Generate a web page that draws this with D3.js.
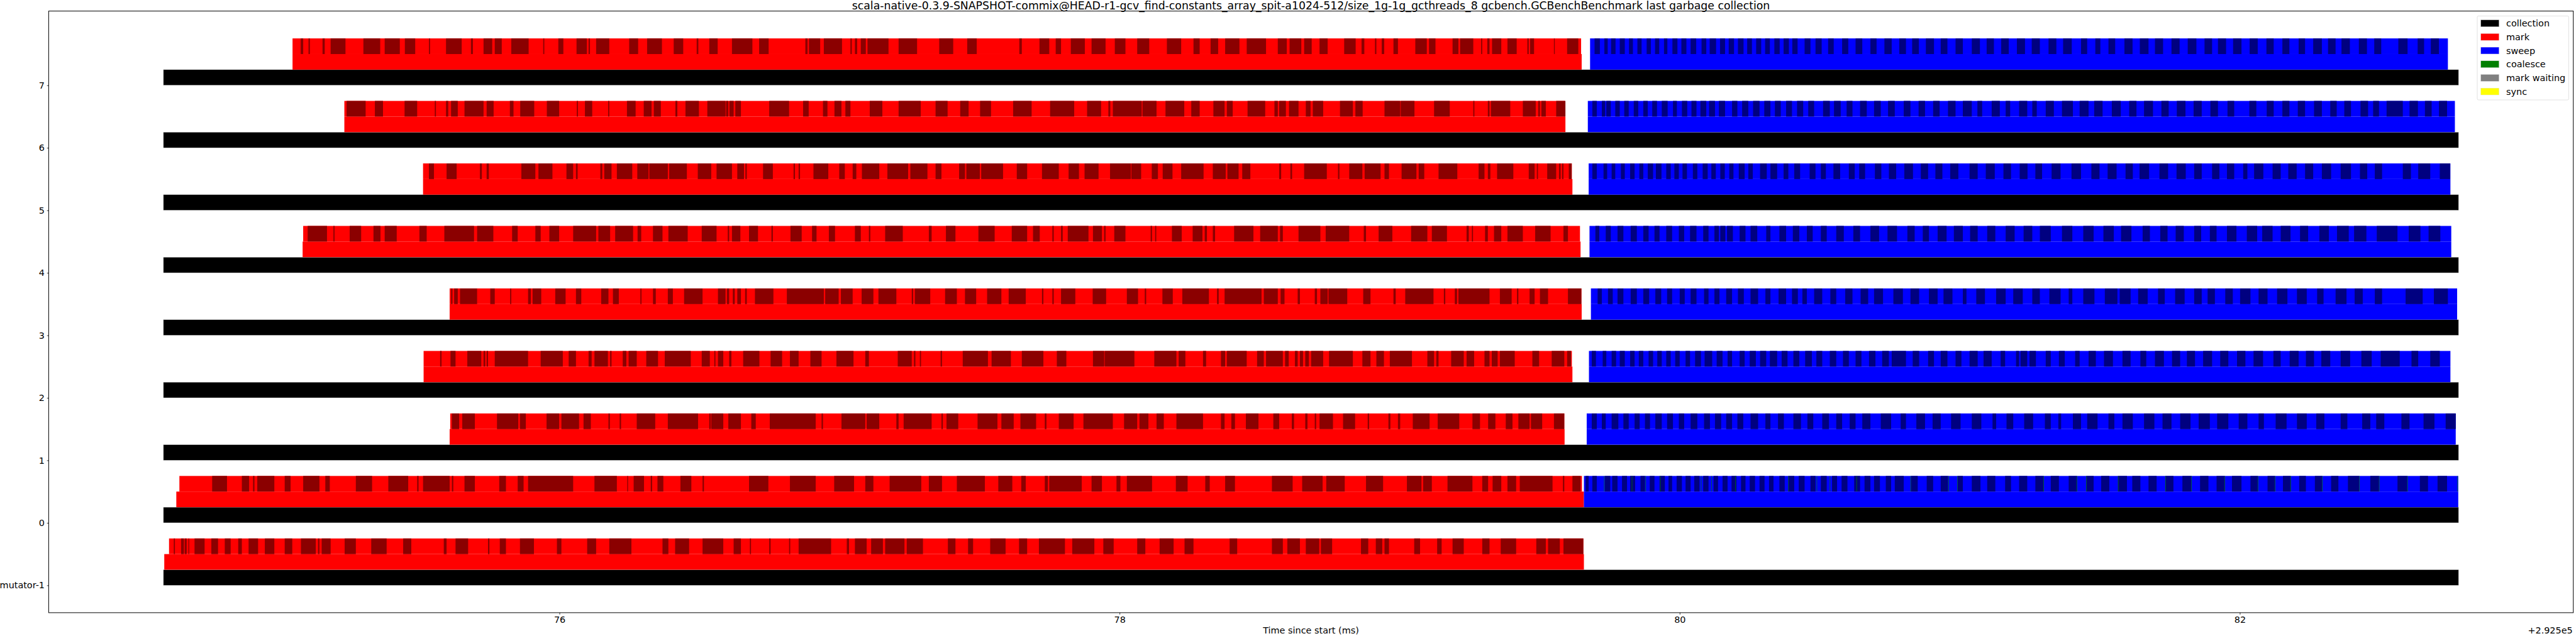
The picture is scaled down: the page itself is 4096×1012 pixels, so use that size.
<!DOCTYPE html>
<html><head><meta charset="utf-8">
<script src="https://cdn.jsdelivr.net/npm/d3@7"></script>
<style>html,body{margin:0;padding:0;background:#fff;overflow:hidden}svg{display:block}text{font-family:"DejaVu Sans",sans-serif}</style>
</head><body><svg id="chart" width="4096" height="1012"></svg>
<script>
// ---- data (times in microseconds after the +2.925e5 ms offset) ----
const titleText = "scala-native-0.3.9-SNAPSHOT-commix@HEAD-r1-gcv_find-constants_array_spit-a1024-512/size_1g-1g_gcthreads_8 gcbench.GCBenchBenchmark last garbage collection";
const rowLabels = ["7","6","5","4","3","2","1","0","mutator-1"];
const rowPos = [7,6,5,4,3,2,1,0,-1];
const collectionStart = [74586,74586,74586,74586,74586,74586,74586,74586,74586];
const collectionEnd   = [82781,82781,82781,82781,82781,82781,82781,82781,82781];
const markStart       = [75047,75232,75513,75083,75608,75515,75608,74632,74589];
const markEnd         = [79650,79592,79617,79646,79650,79617,79589,79658,79658];
const markDetailStart = [75047,75232,75513,75085,75608,75515,75610,74643,74606];
const markDetailEnd   = [79648,79590,79615,79644,79649,79615,79588,79651,79656];
const sweepStart      = [79680,79672,79675,79678,79683,79676,79668,79658,null];
const sweepEnd        = [82743,82768,82752,82755,82776,82752,82771,82780,null];
const xTicks = [76,78,80,82];
const offsetText = "+2.925e5";
const xLabel = "Time since start (ms)";
const legendLabels = ["collection","mark","sweep","coalesce","mark waiting","sync"];
const legendColors = ["#000000","#ff0000","#0000ff","#008000","#808080","#ffff00"];

const markDark7 = [75076,75085,75104,75109,75154,75162,75183,75236,75300,75360,75376,75430,75448,75485,75534,75538,75595,75651,75684,75691,75729,75760,75769,75794,75828,75890,75942,75946,75996,76014,76061,76098,76104,76109,76131,76178,76249,76281,76313,76366,76408,76442,76490,76496,76535,76565,76616,76689,76713,76747,76878,76886,76891,76931,76944,77009,77039,77044,77055,77063,77076,77094,77100,77175,77211,77277,77356,77406,77456,77490,77642,77651,77714,77749,77772,77791,77826,77876,77900,77950,77983,78021,78063,78106,78169,78220,78264,78286,78325,78352,78377,78428,78454,78523,78565,78597,78607,78649,78659,78686,78714,78743,78802,78843,78864,78874,78912,78917,78936,78945,78978,78994,79056,79097,79105,79128,79189,79210,79216,79263,79291,79295,79313,79321,79330,79363,79385,79418,79456,79461,79466,79480,79551,79554,79598,79638];
const markDark6 = [75240,75308,75341,75370,75447,75492,75555,75559,75595,75603,75613,75637,75661,75729,75740,75765,75823,75836,75860,75910,75955,75999,76062,76066,76091,76117,76174,76178,76241,76272,76301,76329,76337,76362,76414,76421,76450,76498,76528,76593,76595,76603,76607,76622,76628,76648,76749,76820,76870,76890,76941,76957,76982,77007,77021,77039,77108,77153,77211,77290,77343,77386,77431,77461,77502,77541,77620,77686,77752,77838,77884,77934,77960,77967,77976,78079,78082,78132,78164,78231,78256,78286,78335,78375,78383,78404,78457,78520,78553,78565,78570,78594,78605,78639,78665,78682,78690,78727,78787,78833,78842,78868,78946,79002,79004,79053,79123,79179,79263,79267,79315,79321,79326,79395,79440,79486,79495,79501,79506,79522,79559,79592];
const markDark5 = [75534,75552,75597,75633,75716,75723,75740,75748,75864,75914,75925,75975,76025,76049,76059,76065,76146,76153,76160,76186,76205,76260,76278,76318,76321,76387,76392,76455,76494,76542,76561,76616,76635,76659,76664,76669,76727,76762,76836,76841,76854,76859,76907,76960,76999,77019,77047,77060,77080,77142,77171,77245,77253,77314,77343,77364,77427,77448,77453,77501,77506,77584,77633,77670,77723,77783,77818,77855,77875,77925,77966,78040,78042,78077,78115,78137,78154,78189,78220,78300,78333,78379,78385,78425,78438,78467,78570,78577,78610,78616,78659,78740,78780,78785,78820,78867,78875,78932,78946,78962,79007,79060,79068,79088,79139,79206,79282,79303,79315,79324,79348,79406,79461,79482,79490,79494,79527,79559,79569,79575,79580,79585,79604,79614];
const markDark4 = [75101,75170,75193,75197,75251,75292,75336,75361,75376,75419,75500,75526,75589,75695,75706,75764,75831,75851,75914,75933,75964,75999,76049,76131,76139,76181,76199,76263,76279,76292,76334,76368,76389,76458,76508,76561,76601,76606,76616,76646,76677,76709,76757,76762,76825,76865,76902,76918,76962,76984,77055,77076,77105,77110,77163,77226,77319,77329,77380,77414,77496,77554,77615,77670,77691,77715,77760,77765,77791,77797,77815,77889,77905,77937,77945,77950,77981,78021,78111,78116,78127,78131,78187,78222,78261,78296,78304,78312,78333,78341,78409,78478,78502,78565,78573,78583,78639,78717,78736,78820,78872,78880,78925,78974,79041,79099,79115,79169,79239,79247,79258,79262,79305,79315,79337,79363,79385,79440,79484,79539,79585,79601];
const markDark3 = [75613,75618,75624,75637,75645,75706,75753,75769,75824,75828,75888,75898,75904,75935,75985,76022,76059,76078,76149,76175,76191,76212,76289,76293,76334,76344,76387,76405,76445,76511,76566,76593,76598,76606,76619,76626,76635,76648,76663,76669,76698,76764,76812,76944,76949,76997,77005,77047,77079,77121,77139,77203,77258,77263,77269,77324,77377,77419,77448,77488,77527,77578,77604,77665,77723,77728,77760,77765,77791,77842,77904,77952,78026,78066,78090,78095,78153,78190,78224,78319,78348,78354,78375,78507,78515,78565,78575,78589,78636,78644,78697,78705,78717,78743,78746,78813,78870,78896,78978,78986,79020,79121,79158,79163,79197,79205,79210,79321,79358,79400,79419,79424,79464,79482,79501,79530,79601,79649];
const markDark2 = [75574,75579,75611,75629,75671,75721,75729,75735,75740,75745,75769,75888,75933,76012,76033,76059,76104,76115,76125,76173,76181,76186,76226,76239,76247,76276,76310,76352,76376,76469,76508,76537,76553,76557,76566,76585,76606,76614,76656,76714,76754,76795,76823,76854,76896,76936,76989,77050,77092,77105,77208,77258,77266,77271,77287,77291,77361,77366,77440,77530,77543,77612,77651,77728,77776,77810,77905,77945,77947,78053,78124,78203,78211,78235,78298,78309,78362,78377,78383,78454,78491,78515,78523,78583,78591,78604,78626,78636,78644,78655,78663,78676,78684,78727,78748,78833,78867,78896,78917,78944,78965,79044,79099,79123,79131,79139,79184,79229,79239,79266,79303,79321,79329,79350,79358,79411,79474,79498,79543,79588,79598,79612];
const markDark1 = [75616,75642,75653,75698,75777,75853,75859,75880,75954,75999,76007,76070,76086,76112,76175,76180,76215,76220,76276,76342,76387,76495,76535,76540,76542,76585,76603,76648,76685,76701,76751,76915,76936,76941,77007,77092,77097,77142,77203,77211,77229,77329,77364,77369,77382,77424,77493,77564,77578,77622,77646,77702,77733,77739,77783,77836,77871,77976,78016,78063,78071,78103,78132,78158,78203,78298,78362,78375,78399,78412,78451,78496,78549,78570,78615,78623,78663,78671,78697,78702,78714,78762,78798,78841,78886,78891,78960,78967,78994,79002,79047,79107,79136,79213,79260,79287,79316,79342,79379,79403,79424,79464,79469,79509,79551,79588];
const markDark0 = [74760,74813,74866,74892,74906,74911,74921,74982,75019,75040,75085,75143,75164,75180,75273,75331,75389,75460,75492,75497,75513,75608,75616,75621,75661,75698,75785,75809,75851,75872,75888,76049,76125,76205,76242,76245,76265,76302,76326,76331,76350,76371,76432,76471,76511,76516,76677,76746,76823,76915,76981,77052,77092,77121,77179,77292,77319,77366,77419,77519,77567,77617,77649,77665,77733,77744,77749,77865,77900,77937,77989,78003,78026,78116,78201,78243,78306,78322,78377,78412,78544,78618,78652,78725,78738,78804,78880,78941,79026,79078,79084,79115,79171,79260,79295,79316,79332,79363,79385,79416,79429,79546,79583,79588,79617,79646];
const markDarkM = [74623,74627,74649,74659,74662,74669,74675,74678,74697,74733,74757,74781,74805,74826,74853,74866,74890,74924,74948,74982,75019,75046,75077,75130,75138,75143,75151,75183,75233,75273,75328,75383,75442,75471,75587,75597,75629,75674,75745,75750,75787,75809,75859,75909,75991,76007,76099,76131,76178,76257,76368,76389,76413,76463,76511,76585,76622,76648,76680,76684,76749,76754,76820,76824,76854,76970,77026,77034,77055,77097,77113,77155,77163,77232,77240,77298,77387,77414,77459,77477,77538,77593,77641,77670,77712,77805,77831,77910,77942,77979,78063,78092,78143,78193,78232,78264,78393,78420,78544,78583,78599,78644,78665,78713,78719,78759,78862,78888,78915,78938,78946,78962,79052,79073,79134,79150,79189,79229,79295,79321,79361,79416,79488,79522,79530,79572,79585,79656];

const sweepDark7 = [79696,79715,79731,79743,79755,79771,79786,79804,79819,79833,79849,79864,79882,79897,79912,79927,79944,79956,79974,79992,80006,80024,80039,80059,80078,80095,80107,80130,80144,80162,80175,80194,80208,80228,80241,80258,80273,80291,80305,80322,80338,80357,80371,80390,80402,80421,80446,80467,80485,80507,80530,80550,80580,80602,80628,80652,80681,80703,80731,80757,80784,80808,80830,80854,80879,80908,80932,80956,80985,81011,81043,81072,81096,81122,81148,81175,81204,81233,81257,81286,81317,81345,81369,81400,81433,81455,81484,81502,81531,81555,81588,81617,81643,81674,81697,81726,81756,81785,81814,81845,81874,81901,81922,81951,81976,82006,82035,82064,82095,82121,82152,82177,82210,82233,82262,82293,82315,82342,82363,82393,82425,82454,82480,82505,82566,82599,82635,82658,82682,82711];
const sweepDark6 = [79688,79704,79722,79734,79738,79754,79770,79786,79802,79818,79836,79852,79870,79886,79902,79919,79936,79957,79976,79990,80008,80027,80042,80060,80074,80095,80105,80126,80140,80162,80187,80206,80223,80245,80262,80285,80302,80324,80340,80361,80380,80401,80419,80441,80459,80480,80512,80536,80551,80575,80596,80617,80644,80668,80694,80718,80744,80768,80800,80824,80853,80876,80905,80928,80958,80985,81011,81043,81063,81080,81114,81143,81164,81180,81212,81241,81259,81275,81307,81336,81365,81404,81428,81460,81480,81510,81543,81575,81605,81631,81658,81690,81720,81746,81775,81806,81835,81864,81895,81922,81956,81980,82034,82059,82096,82121,82152,82177,82207,82233,82265,82293,82323,82346,82373,82397,82431,82458,82476,82497,82524,82582,82606,82636,82661,82685,82711,82740];
const sweepDark5 = [79688,79704,79728,79741,79757,79770,79790,79804,79823,79839,79856,79870,79886,79905,79915,79935,79952,79968,79981,79997,80010,80026,80047,80063,80082,80100,80113,80129,80145,80161,80177,80192,80211,80232,80245,80261,80287,80311,80324,80348,80371,80388,80409,80430,80464,80485,80504,80522,80549,80573,80604,80625,80641,80662,80697,80720,80747,80773,80802,80833,80861,80887,80913,80938,80966,80995,81035,81064,81093,81125,81156,81183,81214,81242,81270,81294,81328,81360,81399,81433,81470,81499,81528,81560,81592,81618,81642,81676,81713,81744,81774,81807,81837,81864,81901,81927,81954,81980,82012,82027,82051,82084,82117,82146,82173,82203,82233,82262,82293,82326,82360,82397,82429,82455,82482,82508,82582,82611,82637,82680,82714,82751];
const sweepDark4 = [79699,79713,79736,79754,79778,79799,79825,79847,79870,79889,79910,79928,79952,79973,79997,80016,80037,80060,80084,80103,80124,80140,80145,80163,80169,80190,80214,80235,80253,80277,80309,80324,80356,80380,80404,80427,80454,80475,80504,80525,80559,80586,80620,80644,80681,80712,80742,80776,80813,80839,80868,80890,80921,80953,80979,81011,81037,81064,81098,81127,81164,81196,81228,81259,81286,81325,81365,81402,81441,81478,81513,81550,81576,81613,81653,81679,81716,81742,81771,81800,81837,81862,81893,81917,81954,81988,82025,82062,82080,82117,82146,82181,82215,82244,82284,82318,82347,82389,82408,82452,82489,82563,82603,82645,82674,82716];
const sweepDark3 = [79707,79722,79744,79761,79778,79799,79825,79847,79870,79891,79913,79934,79955,79973,80000,80018,80039,80060,80087,80103,80124,80142,80166,80187,80208,80229,80253,80280,80306,80324,80353,80380,80401,80422,80438,80454,80480,80509,80538,80559,80591,80617,80646,80673,80694,80726,80763,80797,80824,80855,80890,80921,80942,80974,81011,81024,81059,81090,81130,81164,81191,81225,81259,81286,81320,81360,81389,81402,81441,81481,81518,81563,81571,81610,81637,81671,81708,81732,81769,81803,81837,81864,81885,81911,81948,81975,82001,82038,82067,82099,82133,82170,82204,82239,82276,82299,82342,82381,82410,82439,82482,82508,82592,82653,82693,82743];
const sweepDark2 = [79686,79701,79725,79738,79757,79773,79786,79804,79823,79839,79854,79870,79889,79905,79920,79936,79952,79968,79984,80000,80021,80037,80055,80076,80089,80116,80132,80153,80171,80187,80214,80232,80250,80272,80287,80309,80322,80348,80364,80385,80406,80427,80448,80472,80488,80509,80536,80559,80583,80604,80628,80649,80676,80699,80723,80747,80757,80808,80832,80855,80887,80908,80932,80956,80985,81006,81035,81064,81085,81114,81146,81162,81201,81212,81217,81241,81249,81272,81307,81325,81354,81375,81412,81428,81460,81486,81515,81547,81581,81610,81645,81666,81697,81729,81758,81787,81811,81840,81869,81901,81930,81959,81990,82020,82049,82083,82120,82146,82178,82210,82236,82265,82291,82323,82360,82394,82434,82471,82503,82571,82613,82637,82680,82714];
const sweepDark1 = [79686,79704,79722,79736,79757,79781,79799,79818,79839,79857,79876,79894,79913,79936,79955,79976,79997,80016,80039,80063,80087,80108,80126,80148,80166,80187,80206,80227,80253,80280,80306,80324,80351,80372,80406,80433,80456,80477,80509,80533,80559,80580,80607,80628,80652,80681,80718,80755,80789,80808,80845,80876,80903,80932,80969,81003,81043,81077,81117,81130,81167,81191,81230,81262,81304,81325,81352,81362,81404,81433,81455,81492,81531,81552,81581,81618,81658,81695,81724,81756,81787,81824,81853,81893,81919,81959,81996,82027,82067,82086,82128,82167,82204,82239,82273,82302,82360,82384,82437,82466,82487,82516,82577,82606,82656,82695,82735,82771];
const sweepDark0 = [79664,79675,79688,79704,79733,79752,79759,79778,79794,79812,79823,79841,79860,79876,79893,79910,79928,79947,79960,79973,79989,80008,80021,80039,80052,80071,80084,80103,80121,80137,80153,80171,80185,80203,80219,80235,80250,80269,80285,80303,80319,80335,80356,80375,80388,80409,80425,80446,80467,80485,80504,80525,80544,80562,80578,80599,80623,80644,80660,80681,80694,80715,80736,80755,80768,80800,80826,80850,80882,80905,80932,80958,80993,81011,81043,81074,81098,81127,81162,81183,81212,81241,81270,81299,81325,81354,81389,81418,81452,81478,81505,81534,81565,81597,81616,81645,81674,81703,81734,81763,81795,81827,81858,81888,81917,81946,81972,82006,82038,82064,82099,82125,82154,82181,82212,82236,82268,82294,82326,82352,82386,82426,82466,82497,82563,82598,82643,82672,82706,82740];
const coalesce0 = [79730,79829,79878,79930,80076,80113,80199,80388,80489,80536,80631,80824,80960,80991,81299,81418,81451,81565,81734,81827,81946,82064,82125,82181,82294,82426,82497,82598,82777];

// ---- drawing ----
const markDarkRows = [markDark7,markDark6,markDark5,markDark4,markDark3,markDark2,markDark1,markDark0,markDarkM];
const sweepDarkRows = [sweepDark7,sweepDark6,sweepDark5,sweepDark4,sweepDark3,sweepDark2,sweepDark1,sweepDark0,[]];
const ms = v => v/1000;
const pairs = a => { const r=[]; for(let i=0;i+1<a.length;i+=2) r.push([a[i],a[i+1]]); return r; };

const svg = d3.select("#chart");
const plotL = 77.4, plotR = 4091.7, plotT = 17.6, plotB = 974.9;
const xMin = ms(d3.min(collectionStart)), xMax = ms(d3.max(collectionEnd));
const xPad = (xMax-xMin)*0.05;
const x = d3.scaleLinear().domain([xMin-xPad, xMax+xPad]).range([plotL, plotR]);
const yMin = d3.min(rowPos), yMax = d3.max(rowPos)+0.75, yPad=(yMax-yMin)*0.05;
const y = d3.scaleLinear().domain([yMin-yPad, yMax+yPad]).range([plotB, plotT]);
const H = 0.25;

function bar(g, a, b, lvl, pos, color, stroke){
  const r = g.append("rect").attr("x", x(ms(a))).attr("width", Math.max(0.3, x(ms(b))-x(ms(a))))
    .attr("y", y(pos+lvl+H)).attr("height", y(pos+lvl)-y(pos+lvl+H)).attr("fill", color);
  if(stroke) r.attr("stroke", stroke).attr("stroke-width", 0.5);
  return r;
}
const gBars = svg.append("g");
rowPos.forEach((p,i)=>{
  bar(gBars, collectionStart[i], collectionEnd[i], 0, p, "#000", "#d3d3d3");
  bar(gBars, markStart[i], markEnd[i], 0.25, p, "#ff0000");
  bar(gBars, markDetailStart[i], markDetailEnd[i], 0.5, p, "#ff0000");
  pairs(markDarkRows[i]).forEach(([a,b])=>bar(gBars, a, b, 0.5, p, "#8b0000"));
  if(sweepStart[i]!=null){
    bar(gBars, sweepStart[i], sweepEnd[i], 0.25, p, "#0000ff");
    bar(gBars, sweepStart[i], sweepEnd[i], 0.5, p, "#0000ff");
    pairs(sweepDarkRows[i]).forEach(([a,b])=>bar(gBars, a, b, 0.5, p, "#000080"));
  }
});
coalesce0.forEach(t=>bar(gBars, t, t+1.5, 0.5, 0, "#008000"));

// frame
svg.append("rect").attr("x",plotL).attr("y",plotT).attr("width",plotR-plotL).attr("height",plotB-plotT)
  .attr("fill","none").attr("stroke","#000").attr("stroke-width",1);

// axes
const fs = 14.4;
const xAxis = d3.axisBottom(x).tickValues(xTicks).tickFormat(d3.format("d")).tickSize(3).tickPadding(2.9);
const gx = svg.append("g").attr("transform",`translate(0,${plotB})`).call(xAxis);
const yAxis = d3.axisLeft(y).tickValues(rowPos).tickFormat((d,i)=>rowLabels[i]).tickSize(2.7).tickPadding(3.7);
const gy = svg.append("g").attr("transform",`translate(${plotL},0)`).call(yAxis);
[gx,gy].forEach(g=>{
  g.select(".domain").remove();
  g.selectAll("text").attr("font-size",fs).attr("font-family","DejaVu Sans").attr("fill","#000");
  g.selectAll("line").attr("stroke","#000").attr("stroke-width",0.8);
});

svg.append("text").attr("x",(plotL+plotR)/2).attr("y",1008).attr("text-anchor","middle")
  .attr("font-size",fs).text(xLabel);
svg.append("text").attr("x",plotR-1).attr("y",1007.5).attr("text-anchor","end")
  .attr("font-size",fs).text(offsetText);
svg.append("text").attr("x",(plotL+plotR)/2).attr("y",14.6).attr("text-anchor","middle")
  .attr("font-size",17.3).text(titleText);

// legend
const lg = svg.append("g");
lg.append("rect").attr("x",3939).attr("y",25.4).attr("width",145.4).attr("height",133.6).attr("rx",2)
  .attr("fill","#fff").attr("fill-opacity",0.8).attr("stroke","#cccccc").attr("stroke-width",0.6);
legendLabels.forEach((l,i)=>{
  const cy = 37.1 + i*21.7;
  lg.append("rect").attr("x",3944.6).attr("y",cy-5.45).attr("width",29).attr("height",10.9)
    .attr("fill",legendColors[i]).attr("stroke","#dddddd").attr("stroke-width",0.4);
  lg.append("text").attr("x",3985).attr("y",cy+5.2).attr("font-size",fs).text(l);
});
</script></body></html>
